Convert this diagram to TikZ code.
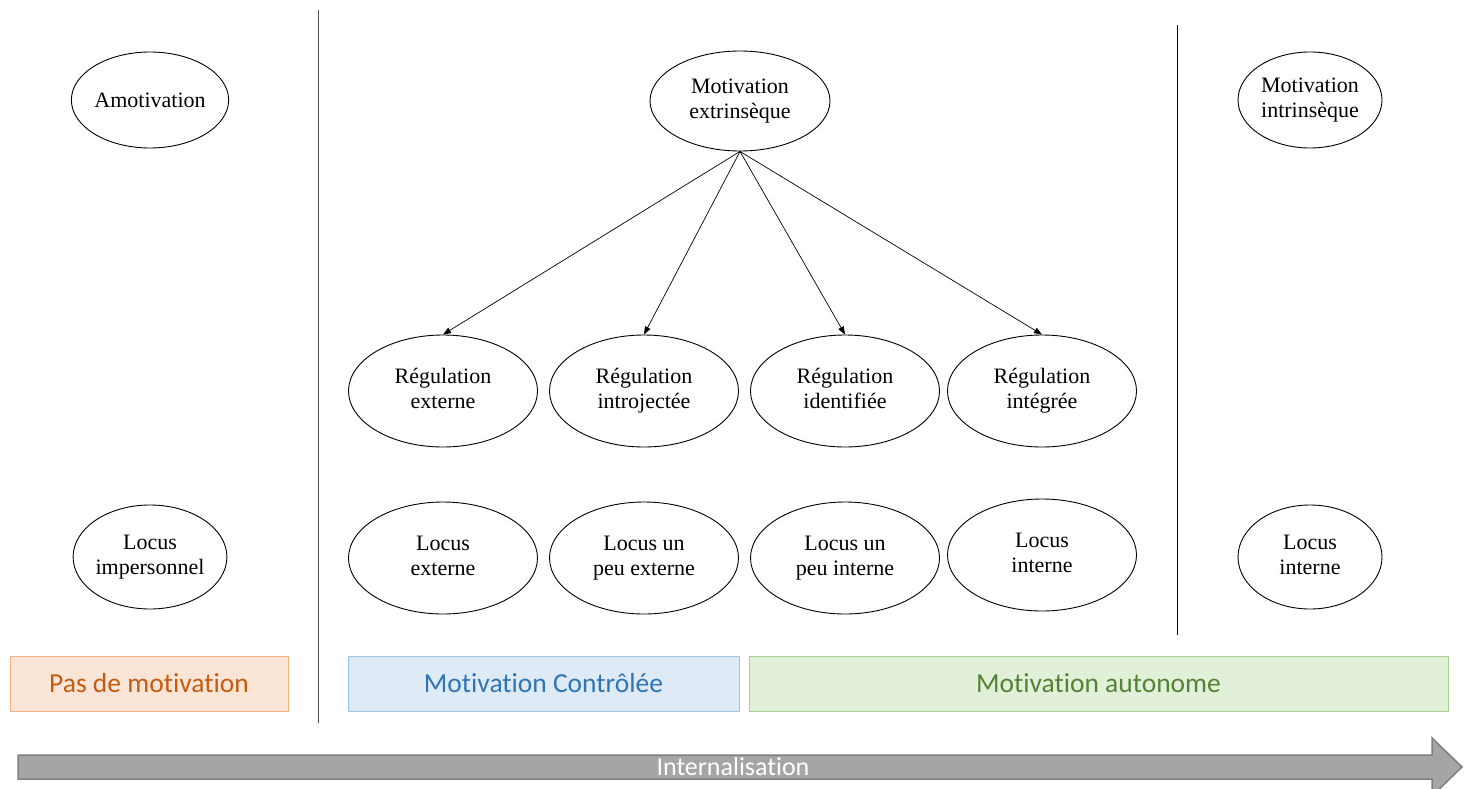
\documentclass[tikz,border=0pt]{standalone}
\usepackage{fontspec}
\setmainfont{Liberation Serif}
\newfontfamily\calib[Ligatures={NoCommon,NoRare,NoDiscretionary}]{Carlito}
\usetikzlibrary{shapes.geometric,arrows.meta}
\definecolor{orfill}{HTML}{FBE5D6}
\definecolor{ordraw}{HTML}{F4B183}
\definecolor{ortext}{HTML}{C55A11}
\definecolor{blfill}{HTML}{DEEBF7}
\definecolor{bldraw}{HTML}{9DC3E6}
\definecolor{bltext}{HTML}{2E75B6}
\definecolor{grfill}{HTML}{E2F0D9}
\definecolor{grdraw}{HTML}{A9D18E}
\definecolor{grtext}{HTML}{548235}
\definecolor{arrfill}{HTML}{A5A5A5}
\definecolor{arrdraw}{HTML}{7F7F7F}
\newcommand{\twol}[2]{\strut #1\\\strut #2}
\tikzset{
  ell/.style={ellipse, draw=black, line width=0.9pt, inner sep=0pt, align=center,
    font=\fontsize{22}{25}\selectfont},
  bigell/.style={ell, minimum width=180pt, minimum height=100pt},
  sidell/.style={ell, minimum width=144pt, minimum height=96pt},
  regell/.style={ell, minimum width=189pt, minimum height=112pt},
  band/.style={rectangle, line width=0.9pt, inner sep=0pt, minimum height=55pt,
    font=\calib\fontsize{27.5}{30}\selectfont},
  conn/.style={-{Triangle[length=8pt,width=6pt]}, line width=0.7pt},
  sep/.style={line width=1pt}
}
\begin{document}
\begin{tikzpicture}[x=1pt,y=-1pt]
\useasboundingbox (0,0) rectangle (1469,789);
\fill[white] (0,0) rectangle (1469,789);
% separators
\coordinate (s1t) at (318,10);
\coordinate (s1b) at (318,723);
\coordinate (s2t) at (1177,25);
\coordinate (s2b) at (1177,635);
\draw[sep, black!70] (s1t) -- (s1b);
\draw[sep] (s2t) -- (s2b);
% top row
\node[sidell] (amo) at (150,100) {Amotivation};
\node[bigell] (ext) at (740,101) {\twol{Motivation}{extrinsèque}};
\node[sidell] (intr) at (1310,100) {\twol{Motivation}{intrinsèque}};
% regulation row
\node[regell] (r1) at (443,391) {\twol{Régulation}{externe}};
\node[regell] (r2) at (644,391) {\twol{Régulation}{introjectée}};
\node[regell] (r3) at (845,391) {\twol{Régulation}{identifiée}};
\node[regell] (r4) at (1042,391) {\twol{Régulation}{intégrée}};
% locus row
\node[sidell, minimum height=104pt] (l0) at (150,557) {\twol{Locus}{impersonnel}};
\node[regell] (l1) at (443,558) {\twol{Locus}{externe}};
\node[regell] (l2) at (644,558) {\twol{Locus un}{peu externe}};
\node[regell] (l3) at (845,558) {\twol{Locus un}{peu interne}};
\node[regell] (l4) at (1042,555) {\twol{Locus}{interne}};
\node[sidell, minimum height=104pt] (l5) at (1310,557) {\twol{Locus}{interne}};
% connectors
\draw[conn] (ext.south) -- (r1.north);
\draw[conn] (ext.south) -- (r2.north);
\draw[conn] (ext.south) -- (r3.north);
\draw[conn] (ext.south) -- (r4.north);
% bands
\node[band, fill=orfill, draw=ordraw, text=ortext, minimum width=278pt] (b1) at (149,683.5) {Pas de motivation};
\node[band, fill=blfill, draw=bldraw, text=bltext, minimum width=391pt] (b2) at (543.5,683.5) {Motivation Contrôlée};
\node[band, fill=grfill, draw=grdraw, text=grtext, minimum width=699pt] (b3) at (1098.5,683.5) {Motivation autonome};
% internalisation arrow
\draw[fill=arrfill, draw=arrdraw, line width=1.5pt]
  (18,755) -- (1432,755) -- (1432,738) -- (1462,767) -- (1432,796) -- (1432,779) -- (18,779) -- cycle;
\node[font=\calib\fontsize{26}{28}\selectfont, text=white, inner sep=0pt] (intl) at (733,767) {Internalisation};
\end{tikzpicture}
\end{document}
